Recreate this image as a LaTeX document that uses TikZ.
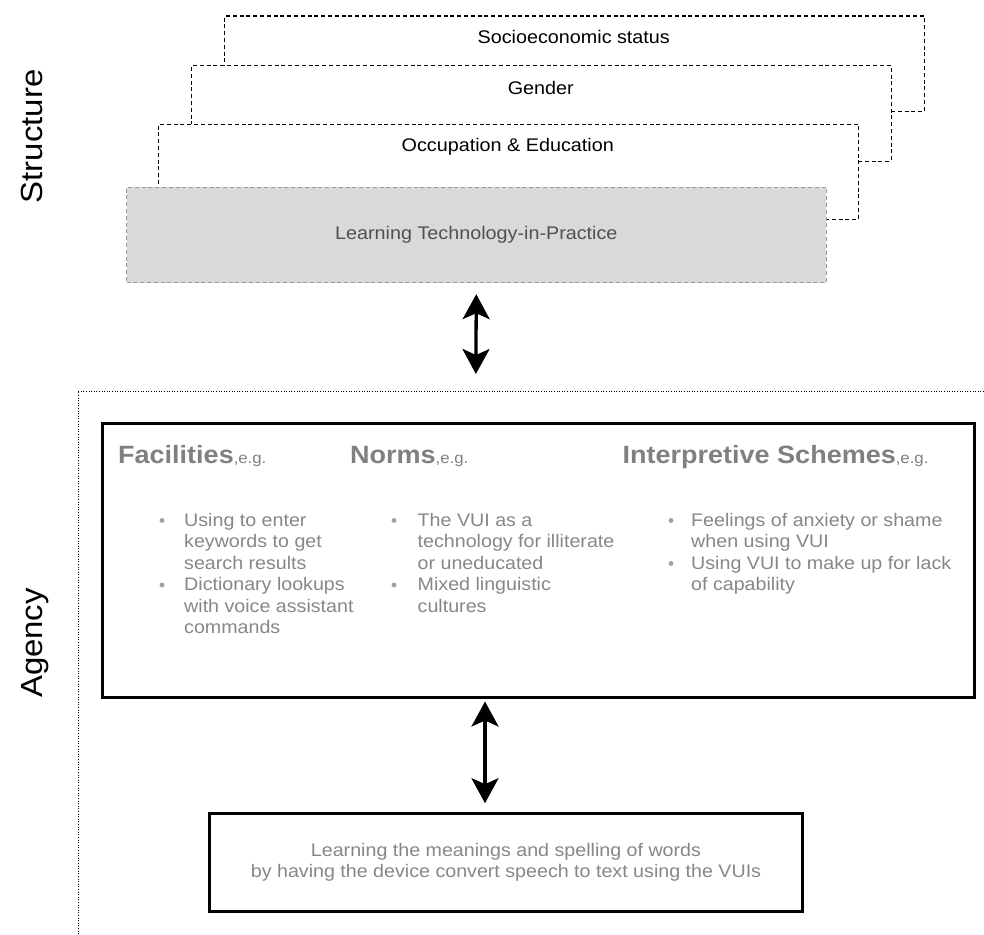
\documentclass[tikz,border=0pt]{standalone}
\usepackage{fontspec}
\setmainfont{Liberation Sans}[FakeStretch=1.08]
\usetikzlibrary{arrows.meta}
\definecolor{headgray}{HTML}{808080}
\definecolor{txtgray}{HTML}{878787}
\definecolor{dotgray}{HTML}{A0A0A0}
\definecolor{fillgray}{HTML}{D9D9D9}
\definecolor{edgegray}{HTML}{999999}
\definecolor{ltext}{HTML}{505050}
\begin{document}
\begin{tikzpicture}[x=1pt,y=-1pt,
  layerbox/.style={draw=black, line width=1.2pt, dash pattern=on 4pt off 2.8pt, fill=white,
    minimum width=699.5pt, minimum height=95.5pt, anchor=north west, inner sep=0pt},
  toplabel/.style={anchor=base, inner sep=0pt, font=\fontsize{18.3}{21}\selectfont},
  solidbox/.style={draw=black, line width=3pt, fill=white, anchor=north west, inner sep=0pt},
  dblarrow/.style={{Stealth[length=25pt,width=27pt,inset=6pt]}-{Stealth[length=25pt,width=27pt,inset=6pt]}, line width=3.3pt},
  dotline/.style={line width=1pt, dash pattern=on 1pt off 1.6pt},
  sidelabel/.style={rotate=90, anchor=base, inner sep=0pt, font=\fontsize{30.5}{34}\selectfont},
  head/.style={anchor=base west, inner sep=0pt, text=headgray, font=\fontsize{25}{28}\selectfont\bfseries},
  btext/.style={anchor=base west, inner sep=0pt, text=txtgray, font=\fontsize{18.2}{21}\selectfont},
  bdot/.style={circle, fill=dotgray, inner sep=0pt, minimum size=4.8pt}
]
\useasboundingbox (0,0) rectangle (984,934);

% side labels
\node[sidelabel] (structure) at (42,136.5) {Structure};
\node[sidelabel] (agencylbl) at (42,643) {Agency};

% stacked structure layers
\node[layerbox] (socio) at (224,15.5) {};
\node[toplabel] (sociot) at (573.75,43.5) {Socioeconomic status};
\node[layerbox] (gender) at (191,65) {};
\node[toplabel] (gendert) at (540.75,94) {Gender};
\node[layerbox] (occup) at (158,123.5) {};
\node[toplabel] (occupt) at (507.75,151) {Occupation \& Education};
\node[layerbox, draw=edgegray, fill=fillgray, text=ltext, font=\fontsize{18.3}{21}\selectfont] (learn) at (126,186.5) {Learning Technology-in-Practice};

% agency region (dotted)
\coordinate (dtr) at (984,391);
\coordinate (dtl) at (78,391);
\coordinate (dbot) at (78,934);
\draw[dotline] (dtr) -- (dtl) -- (dbot);

% arrow structure <-> agency
\coordinate (agtop) at (475.75,391);
\draw[dblarrow, shorten <=11pt, shorten >=17pt] (learn.south) -- (agtop);

% agency box
\node[solidbox, minimum width=872pt, minimum height=274.5pt] (agency) at (101,421.5) {};

% headings
\node[head] (fac) at (118,463) {Facilities{\mdseries\fontsize{15.5}{18}\selectfont,e.g.}};
\node[head] (norms) at (350,463) {Norms{\mdseries\fontsize{15.5}{18}\selectfont,e.g.}};
\node[head] (interp) at (622.5,463) {Interpretive Schemes{\mdseries\fontsize{15.5}{18}\selectfont,e.g.}};

% column 1
\node[bdot] (c1d1) at (162,520.5) {};
\node[btext] (c1a) at (184,526) {Using to enter};
\node[btext] (c1b) at (184,547.5) {keywords to get};
\node[btext] (c1c) at (184,569) {search results};
\node[bdot] (c1d2) at (162,585) {};
\node[btext] (c1e) at (184,590.5) {Dictionary lookups};
\node[btext] (c1f) at (184,612) {with voice assistant};
\node[btext] (c1g) at (184,633.5) {commands};

% column 2
\node[bdot] (c2d1) at (394,520.5) {};
\node[btext] (c2a) at (417.5,526) {The VUI as a};
\node[btext] (c2b) at (417.5,547.5) {technology for illiterate};
\node[btext] (c2c) at (417.5,569) {or uneducated};
\node[bdot] (c2d2) at (394,585) {};
\node[btext] (c2d) at (417.5,590.5) {Mixed linguistic};
\node[btext] (c2e) at (417.5,612) {cultures};

% column 3
\node[bdot] (c3d1) at (671,520.5) {};
\node[btext] (c3a) at (691,526) {Feelings of anxiety or shame};
\node[btext] (c3b) at (691,547.5) {when using VUI};
\node[bdot] (c3d2) at (671,563.5) {};
\node[btext] (c3c) at (691,569) {Using VUI to make up for lack};
\node[btext] (c3d) at (691,590.5) {of capability};

% result box
\node[solidbox, minimum width=593pt, minimum height=98.3pt, align=center, text=txtgray,
  font=\fontsize{18.2}{21.5}\selectfont] (result) at (208,811.7)
  {Learning the meanings and spelling of words\\by having the device convert speech to text using the VUIs};

% arrow agency <-> result
\coordinate (a2x) at (485,0);
\draw[dblarrow, shorten <=2.5pt, shorten >=8.5pt] (agency.south -| a2x) -- (result.north -| a2x);
\end{tikzpicture}
\end{document}
